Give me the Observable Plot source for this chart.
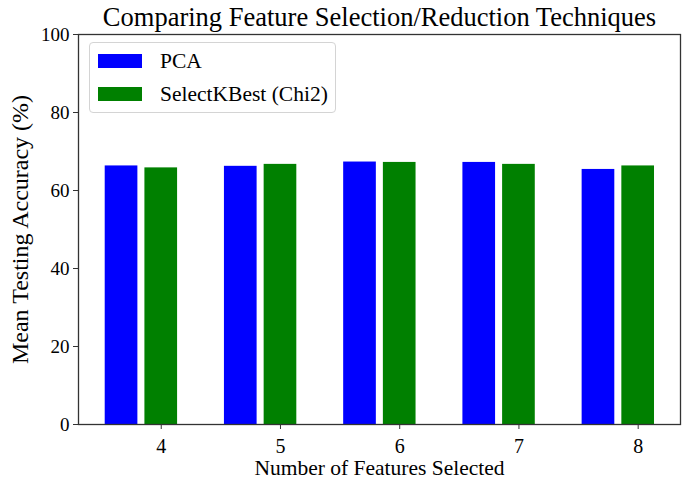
<!DOCTYPE html>
<html>
<head>
<meta charset="utf-8">
<script src="https://cdn.jsdelivr.net/npm/d3@7"></script>
<script src="https://cdn.jsdelivr.net/npm/@observablehq/plot@0.6"></script>
<style>
  html, body { margin: 0; padding: 0; background: #fff; }
  #wrap { position: relative; width: 685px; height: 484px; font-family: "Liberation Serif", "Times New Roman", serif; }
  #legend { position: absolute; left: 89px; top: 42px; width: 247px; height: 71px; box-sizing: border-box;
            border: 1.3px solid #d4d4d4; border-radius: 4px; background: rgba(255,255,255,0.85); }
  .item { position: absolute; left: 8px; height: 22px; display: flex; align-items: center; font-size: 21.5px; color: #000; }
  .sw { width: 44px; height: 14px; margin-right: 18px; }
</style>
</head>
<body>
<div id="wrap"></div>
<script>
const features = [4, 5, 6, 7, 8];
const seriesNames = ["PCA", "SelectKBest (Chi2)"];
const pcaValues = [66.3, 66.2, 67.3, 67.2, 65.4];
const chi2Values = [65.8, 66.7, 67.2, 66.7, 66.3];
const colors = ["#0000ff", "#008000"];
const xTicks = [4, 5, 6, 7, 8];
const yTicks = [0, 20, 40, 60, 80, 100];

const rows = [];
features.forEach((k, i) => {
  rows.push({k, series: seriesNames[0], value: pcaValues[i]});
  rows.push({k, series: seriesNames[1], value: chi2Values[i]});
});
const offset = {[seriesNames[0]]: -0.333, [seriesNames[1]]: 0};
const half = 0.137;

const chart = Plot.plot({
  width: 685,
  height: 484,
  marginLeft: 78,
  marginRight: 5,
  marginTop: 34,
  marginBottom: 60,
  style: {fontFamily: "Liberation Serif, Times New Roman, serif", fontSize: "19px", color: "#000", background: "#fff"},
  x: {type: "linear", domain: [3.306, 8.355]},
  y: {domain: [0, 100]},
  color: {domain: seriesNames, range: colors},
  marks: [
    Plot.rectY(rows, {
      x1: d => d.k + offset[d.series] - half,
      x2: d => d.k + offset[d.series] + half,
      y1: 0,
      y2: "value",
      fill: "series"
    }),
    Plot.frame({stroke: "#333", strokeWidth: 1.3}),
    Plot.axisX({ticks: xTicks, tickFormat: d3.format("d"), tickSize: 5, tickPadding: 9, stroke: "#333", fontSize: 20, label: null}),
    Plot.axisX({ticks: [], label: "Number of Features Selected", labelAnchor: "center", labelOffset: 50,
      labelArrow: "none", fontSize: 21.5}),
    Plot.axisY({ticks: yTicks, tickSize: 5, tickPadding: 4, stroke: "#333", fontSize: 19, label: null}),
    Plot.axisY({ticks: [], label: "Mean Testing Accuracy (%)", labelAnchor: "center", labelOffset: 68,
      labelArrow: "none", fontSize: 24}),
    Plot.text(["Comparing Feature Selection/Reduction Techniques"], {
      frameAnchor: "top", lineAnchor: "middle", dy: -17, text: d => d, fontSize: 26.5, fill: "#000"
    })
  ]
});

const wrap = document.getElementById("wrap");
wrap.appendChild(chart);
const legend = document.createElement("div");
legend.id = "legend";
seriesNames.forEach((name, i) => {
  const item = document.createElement("div");
  item.className = "item";
  item.style.top = (i === 0 ? 7 : 40) + "px";
  const sw = document.createElement("div");
  sw.className = "sw";
  sw.style.background = colors[i];
  item.appendChild(sw);
  const t = document.createElement("span");
  t.textContent = name;
  item.appendChild(t);
  legend.appendChild(item);
});
wrap.appendChild(legend);
</script>
</body>
</html>
